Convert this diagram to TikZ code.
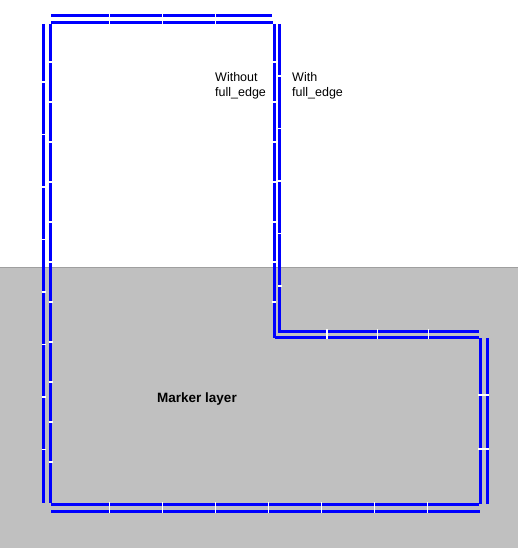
\documentclass[tikz,border=0pt]{standalone}
\usepackage{fontspec}
\setmainfont{Liberation Sans}
\usetikzlibrary{positioning}
\definecolor{markergray}{RGB}{192,192,192}
\definecolor{edgeblue}{RGB}{0,0,255}
\tikzset{
  edgeline/.style={draw=edgeblue, line width=3pt},
  gapmark/.style={draw=white, line width=1.2pt},
  note/.style={align=left, font=\fontsize{12.5}{15.5}\selectfont,
    inner sep=0pt, anchor=north west},
}

\begin{document}
\begin{tikzpicture}[x=1pt, y=-1pt]
  \useasboundingbox (0,0) rectangle (518,548);

  % Marker layer
  \fill[markergray] (0,267) rectangle (518,548);
  \draw[gray!75, line width=1pt] (0,267) -- (518,267);
  \node[font=\bfseries\fontsize{13.5}{16}\selectfont] (layer) at (197,399) {Marker layer};

  % Top edge
  \draw[edgeline] (51,16) -- (272,16);
  \draw[edgeline] (51,23) -- (273,23);
  \foreach \x in {109.5,162.5,215.5}
    \draw[gapmark] (\x,13) -- (\x,26);

  % Left edge
  \draw[edgeline] (43.5,24) -- (43.5,503);
  \draw[edgeline] (50.5,24) -- (50.5,503);
  \foreach \y in {82,134.5,187,239.5,292,344.5,397,449.5}
    \draw[gapmark] (41.5,\y) -- (45.5,\y);
  \foreach \y in {62,102,142,182,222,262,302,342,382,422,462}
    \draw[gapmark] (48.5,\y) -- (52.5,\y);

  % Right edge of the tall part
  \draw[edgeline] (274,24) -- (274,338);
  \draw[edgeline] (279.5,24) -- (279.5,333);
  \foreach \y in {62,102,142,182,222,262,302}
    \draw[gapmark] (272,\y) -- (276,\y);
  \foreach \y in {76,128.5,181,233.5,286}
    \draw[gapmark] (277.5,\y) -- (281.5,\y);

  % Step edge
  \draw[edgeline] (280,331) -- (479,331);
  \draw[edgeline] (275,337) -- (479,337);
  \foreach \x in {327,377.5,428.5}
    \draw[gapmark] (\x,329) -- (\x,339);

  % Right edge
  \draw[edgeline] (480,338) -- (480,504);
  \draw[edgeline] (487,338) -- (487,504);
  \foreach \y in {395,449}
    \draw[gapmark] (478,\y) -- (489,\y);

  % Bottom edge
  \draw[edgeline] (51,504.5) -- (479,504.5);
  \draw[edgeline] (51,511) -- (480,511);
  \foreach \x in {109.5,162.5,215.5,268.5,321.5,374.5,427.5}
    \draw[gapmark] (\x,502) -- (\x,513);

  % Labels
  \node[note] (without) at (215,72) {Without\\full\_edge};
  \node[note] (with) at (292,72) {With\\full\_edge};
\end{tikzpicture}
\end{document}
